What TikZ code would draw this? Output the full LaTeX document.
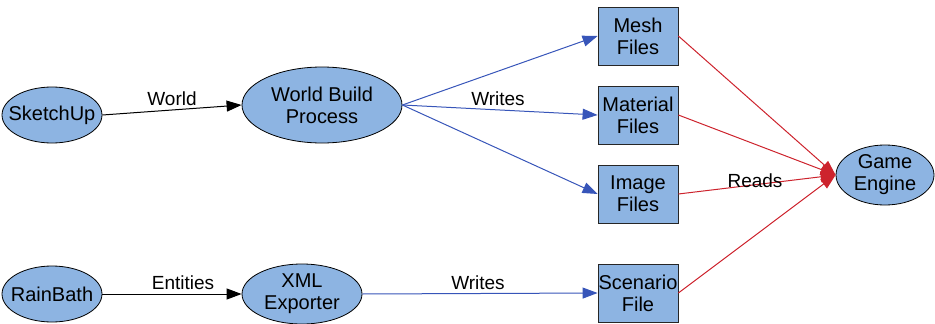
\documentclass[tikz,border=0pt]{standalone}
\usepackage{fontspec}
\setmainfont{Liberation Sans}
\usetikzlibrary{arrows.meta,shapes.geometric}
\definecolor{nodefill}{RGB}{141,180,226}
\definecolor{edgeblue}{RGB}{55,85,185}
\definecolor{edgered}{RGB}{205,35,45}
\begin{document}
\begin{tikzpicture}[x=1pt,y=-1pt,
  ell/.style={ellipse,draw=black,line width=0.8pt,fill=nodefill,inner xsep=-25pt,inner ysep=-6pt,
    align=center,font=\fontsize{20}{22}\selectfont},
  box/.style={rectangle,draw=black!85,line width=0.8pt,fill=nodefill,minimum width=80pt,minimum height=58pt,
    inner sep=0pt,align=center,font=\fontsize{20}{22}\selectfont},
  lbl/.style={inner sep=0pt,font=\fontsize{19}{22}\selectfont},
  tip/.style={-{Triangle[length=15pt,width=11pt]}},
  blk/.style={draw=black,line width=1pt,tip},
  blu/.style={draw=edgeblue,line width=1pt,tip,-{Triangle[length=15pt,width=11pt,fill=edgeblue]}},
  red/.style={draw=edgered,line width=1pt,-{Triangle[length=15pt,width=11pt,fill=edgered]}}
]
\useasboundingbox (0,0) rectangle (935,324);
% nodes
\node[ell,minimum width=100pt,minimum height=56pt] (sk) at (52,115) {SketchUp};
\node[ell,minimum width=160pt,minimum height=76pt] (wbp) at (322,105) {World Build\\Process};
\node[box] (mesh) at (638,36) {Mesh\\Files};
\node[box] (mat) at (638,115) {Material\\Files};
\node[box] (img) at (638,194) {Image\\Files};
\node[box] (scen) at (638,293) {Scenario\\File};
\node[ell,minimum width=100pt,minimum height=56pt] (rb) at (52,294) {RainBath};
\node[ell,minimum width=120pt,minimum height=60pt] (xml) at (302,294) {XML\\Exporter};
\node[ell,minimum width=98pt,minimum height=60pt] (ge) at (885,175) {Game\\Engine};
% connectors
\draw[blk] (sk.east) -- (wbp.west);
\draw[blu] (wbp.east) -- (mesh.west);
\draw[blu] (wbp.east) -- (mat.west);
\draw[blu] (wbp.east) -- (img.west);
\draw[blk] (rb.east) -- (xml.west);
\draw[blu] (xml.east) -- (scen.west);
\draw[red] (mesh.east) -- (ge.west);
\draw[red] (mat.east) -- (ge.west);
\draw[red] (img.east) -- (ge.west);
\draw[red] (scen.east) -- (ge.west);
% labels
\node[lbl] (lworld) at (172,99) {World};
\node[lbl] (lwrites1) at (498,99) {Writes};
\node[lbl] (lent) at (183,283) {Entities};
\node[lbl] (lwrites2) at (478,283) {Writes};
\node[lbl] (lreads) at (755,181) {Reads};
\end{tikzpicture}
\end{document}
